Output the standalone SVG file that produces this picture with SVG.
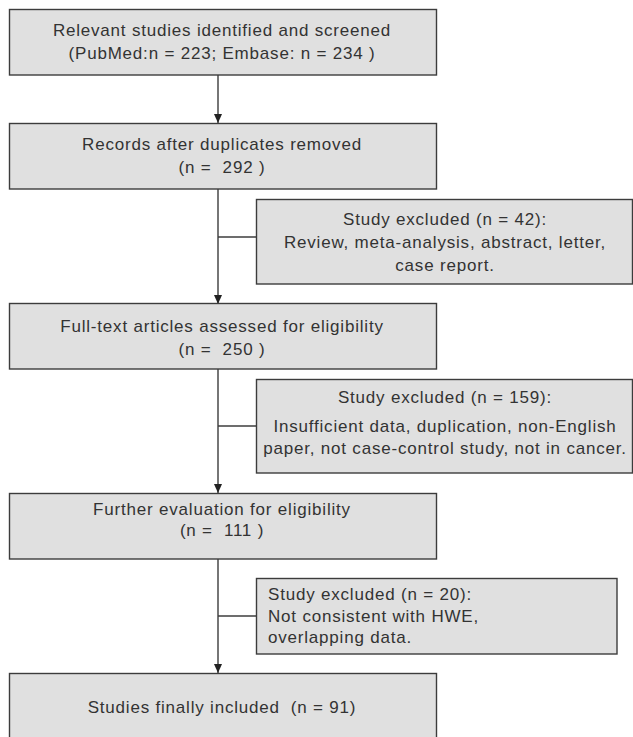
<svg xmlns="http://www.w3.org/2000/svg" width="633" height="737" viewBox="0 0 633 737">
<style>
.box{fill:#e0e0e0;stroke:#3c3c3c;stroke-width:1.4}
.t{font-family:"Liberation Sans",Arial,sans-serif;font-size:17px;letter-spacing:0.8px;fill:#333;white-space:pre}
.c{text-anchor:middle}
.ln{stroke:#3c3c3c;stroke-width:1.4;fill:none}
</style>
<defs>
<marker id="ah" markerWidth="8" markerHeight="9" refX="4" refY="9" orient="auto-start-reverse" markerUnits="userSpaceOnUse" viewBox="0 0 8 9">
<path d="M0,0 L8,0 L4,9 Z" fill="#222" transform="rotate(-90 4 4.5)"/>
</marker>
<marker id="ad" markerWidth="8" markerHeight="9" refX="4" refY="9" orient="0" markerUnits="userSpaceOnUse" viewBox="0 0 8 9">
<path d="M0,0 L8,0 L4,9 Z" fill="#222"/>
</marker>
</defs>
<g id="connectors">
<line class="ln" x1="218" y1="75" x2="218" y2="123" marker-end="url(#ad)"/>
<line class="ln" x1="218" y1="189" x2="218" y2="304" marker-end="url(#ad)"/>
<line class="ln" x1="218" y1="237" x2="256" y2="237"/>
<line class="ln" x1="218" y1="369" x2="218" y2="493" marker-end="url(#ad)"/>
<line class="ln" x1="218" y1="426" x2="256" y2="426"/>
<line class="ln" x1="218" y1="559" x2="218" y2="673" marker-end="url(#ad)"/>
<line class="ln" x1="218" y1="616" x2="256" y2="616"/>
</g>
<g id="n1">
<rect class="box" x="9.5" y="9.5" width="427" height="65.5"/>
<text class="t c" x="222" y="36">Relevant studies identified and screened</text>
<text class="t c" x="222" y="59">(PubMed:n = 223; Embase: n = 234 )</text>
</g>
<g id="n2">
<rect class="box" x="9.5" y="123.5" width="427" height="65.5"/>
<text class="t c" x="222" y="150">Records after duplicates removed</text>
<text class="t c" x="222" y="173">(n =  292 )</text>
</g>
<g id="e1">
<rect class="box" x="256.5" y="199.5" width="376" height="84.5"/>
<text class="t c" x="445" y="225">Study excluded (n = 42):</text>
<text class="t c" x="445" y="248">Review, meta-analysis, abstract, letter,</text>
<text class="t c" x="445" y="271">case report.</text>
</g>
<g id="n3">
<rect class="box" x="9.5" y="303.5" width="427" height="65.5"/>
<text class="t c" x="222" y="332">Full-text articles assessed for eligibility</text>
<text class="t c" x="222" y="355">(n =  250 )</text>
</g>
<g id="e2">
<rect class="box" x="256.5" y="379.5" width="376" height="93.5"/>
<text class="t c" x="445" y="403">Study excluded (n = 159):</text>
<text class="t c" x="445" y="432">Insufficient data, duplication, non-English</text>
<text class="t c" x="445" y="454">paper, not case-control study, not in cancer.</text>
</g>
<g id="n4">
<rect class="box" x="9.5" y="493.5" width="427" height="65.5"/>
<text class="t c" x="222" y="515">Further evaluation for eligibility</text>
<text class="t c" x="222" y="536">(n =  111 )</text>
</g>
<g id="e3">
<rect class="box" x="256.5" y="578.5" width="360.5" height="75.5"/>
<text class="t" x="268" y="600">Study excluded (n = 20):</text>
<text class="t" x="268" y="622">Not consistent with HWE,</text>
<text class="t" x="268" y="643">overlapping data.</text>
</g>
<g id="n5">
<rect class="box" x="9.5" y="673.5" width="427" height="70"/>
<text class="t c" x="222" y="713">Studies finally included  (n = 91)</text>
</g>
</svg>
